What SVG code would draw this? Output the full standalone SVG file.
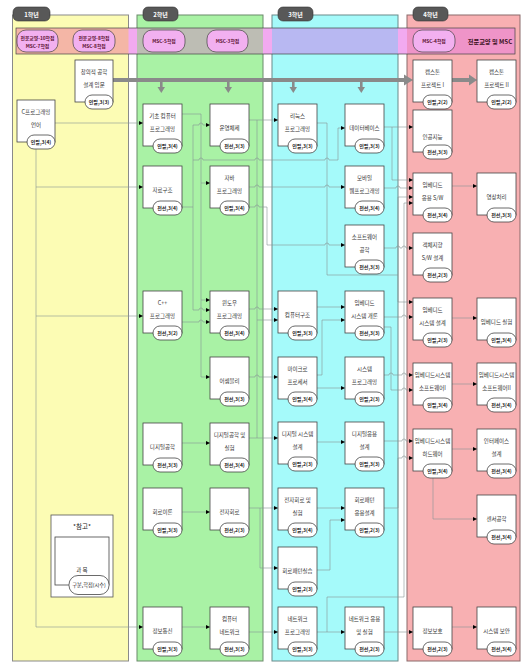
<svg xmlns="http://www.w3.org/2000/svg" width="523" height="662" viewBox="0 0 523 662">
<style>
text{font-family:"Noto Sans CJK KR","Noto Sans",sans-serif}
.t{font-size:5.5px;fill:#333;text-anchor:middle}
.pt{font-size:5px;fill:#222;text-anchor:middle;font-weight:bold}
.b{fill:#fff;stroke:#444;stroke-width:0.8}
.p{fill:#fff;stroke:#444;stroke-width:0.8}
.tab{fill:#585858;stroke:#333;stroke-width:0.6}
.tabt{font-size:6px;fill:#fff;text-anchor:middle;font-weight:bold}
.bp{fill:#f2b0f0;stroke:#444;stroke-width:0.7}
.bt{font-size:4.8px;fill:#5a1030;text-anchor:middle;font-weight:bold}
.cn{fill:none;stroke:#879393;stroke-width:0.6;marker-end:url(#ah)}
.cl{fill:none;stroke:#879393;stroke-width:0.6}
.thick{fill:none;stroke:#8a8a8a;stroke-width:4}
.ah2{fill:#8a8a8a}
</style>
<defs>
<marker id="ah" markerUnits="userSpaceOnUse" markerWidth="4" markerHeight="4" viewBox="0 0 6 6" refX="6" refY="3" orient="auto"><path d="M0,0 L6,3 L0,6 z" fill="#000"/></marker>
</defs>
<g id="panels">
<rect x="12.5" y="15" width="116" height="646" fill="#fcfcb4" stroke="#8a8a8a"/>
<rect x="137" y="15" width="126" height="646" fill="#a9f2a5" stroke="#6a8a6a"/>
<rect x="272" y="15" width="126" height="646" fill="#a5fafa" stroke="#6a8a8a"/>
<rect x="407" y="15" width="113" height="646" fill="#f8b0b2" stroke="#8a6a6a"/>
<rect x="16" y="28" width="499" height="26" fill="#f2aaf0"/>
<rect x="16" y="28" width="112.5" height="26" fill="#f4b6a6"/>
<rect x="137" y="28" width="126" height="26" fill="#bdbdb4"/>
<rect x="272" y="28" width="126" height="26" fill="#b8b8f2"/>
<rect x="407" y="28" width="108" height="26" fill="#ef94c8"/>
<rect x="16" y="28" width="499" height="26" fill="none" stroke="#444" stroke-width="0.7"/>
</g>
<g id="tabs">
<rect class="tab" x="13" y="7" width="37" height="14" rx="5"/><text class="tabt" x="31.5" y="16.5">1학년</text>
<rect class="tab" x="143" y="7" width="35" height="14" rx="5"/><text class="tabt" x="160.5" y="16.5">2학년</text>
<rect class="tab" x="278" y="7" width="35" height="14" rx="5"/><text class="tabt" x="295.5" y="16.5">3학년</text>
<rect class="tab" x="413" y="7" width="35" height="14" rx="5"/><text class="tabt" x="430.5" y="16.5">4학년</text>
</g>
<g id="band">
<rect class="bp" x="17" y="30" width="41" height="22" rx="9"/><text class="bt" x="37.5" y="39.5">전문교양-10학점</text><text class="bt" x="37.5" y="47.5">MSC-7학점</text>
<rect class="bp" x="73" y="30" width="42" height="22" rx="9"/><text class="bt" x="94" y="39.5">전문교양-8학점</text><text class="bt" x="94" y="47.5">MSC-8학점</text>
<rect class="bp" x="143" y="30" width="42" height="22" rx="9"/><text class="bt" x="164" y="43">MSC-5학점</text>
<rect class="bp" x="207" y="30" width="41" height="22" rx="9"/><text class="bt" x="227.5" y="43">MSC-3학점</text>
<rect class="bp" x="413" y="30" width="42" height="22" rx="9"/><text class="bt" x="434" y="43">MSC-4학점</text>
<text x="490" y="43.5" font-size="6.2" font-weight="bold" fill="#3a1020" text-anchor="middle">전문교양 및 MSC</text>
</g>
<g id="flow">
<path class="thick" d="M113,80 H405"/>
<polygon class="ah2" points="404,74.5 413,80 404,85.5"/>
<path class="thick" d="M452,80 H470"/>
<polygon class="ah2" points="469,74.5 477,80 469,85.5"/>
<path d="M161.3,80 V88 M228.3,80 V88 M293.3,80 V88 M361.3,80 V88" stroke="#8a8a8a" stroke-width="2.6"/>
<polygon class="ah2" points="157.5,87 165,87 161.3,93"/>
<polygon class="ah2" points="224.5,87 232,87 228.3,93"/>
<polygon class="ah2" points="289.5,87 297,87 293.3,93"/>
<polygon class="ah2" points="357.5,87 365,87 361.3,93"/>
</g>
<g id="connectors">
<path class="cn" d="M55,123 H143"/>
<path class="cl" d="M36,149 V627"/>
<path class="cn" d="M36,187 H143"/>
<path class="cn" d="M36,316 H143"/>
<path class="cn" d="M36,627 H143"/>
<path class="cl" d="M182,114 H201 V377"/>
<path class="cn" d="M201,183 H210"/>
<path class="cn" d="M201,300 H210"/>
<path class="cn" d="M201,377 H210"/>
<path class="cl" d="M182,207 H193 V125"/>
<path class="cn" d="M193,125 H199 a2,2 0 0 1 4,0 H210"/>
<path class="cl" d="M193,207 V310"/>
<path class="cn" d="M193,310 H199 a2,2 0 0 1 4,0 H210"/>
<path class="cn" d="M193,160 H199 a2,2 0 0 1 4,0 H255 a2,2 0 0 1 4,0 H325 a2,2 0 0 1 4,0 H338 V128 H345"/>
<path class="cn" d="M182,322 H199 a2,2 0 0 1 4,0 H210"/>
<path class="cn" d="M182,443 H210"/>
<path class="cn" d="M182,512 H210"/>
<path class="cn" d="M182,627 H210"/>
<path class="cn" d="M249,120 H278"/>
<path class="cl" d="M257,120 V438"/>
<path class="cn" d="M249,187 H255 a2,2 0 0 1 4,0 H325 a2,2 0 0 1 4,0 H345"/>
<path class="cn" d="M249,207 H255 a2,2 0 0 1 4,0 H267 V245 H325 a2,2 0 0 1 4,0 H345"/>
<path class="cn" d="M249,309 H255 a2,2 0 0 1 4,0 H278"/>
<path class="cn" d="M257,320 H278"/>
<path class="cn" d="M249,438 H278"/>
<path class="cn" d="M249,377 H255 a2,2 0 0 1 4,0 H278"/>
<path class="cn" d="M249,508 H278"/>
<path class="cn" d="M260,508 V568 H278"/>
<path class="cn" d="M249,632 H278"/>
<path class="cl" d="M317,123 H327 V275 H398"/>
<path class="cl" d="M398,197 V302"/>
<path class="cn" d="M398,197 H413"/>
<path class="cn" d="M398,302 H413"/>
<path class="cn" d="M317,307 H345"/>
<path class="cn" d="M317,375 H322 V320 H345"/>
<path class="cn" d="M317,388 H345"/>
<path class="cn" d="M317,442 H345"/>
<path class="cn" d="M317,508 H345"/>
<path class="cn" d="M317,570 H330 V520 H345"/>
<path class="cn" d="M317,632 H345"/>
<path class="cl" d="M327,632 V597 H404 V203"/>
<path class="cn" d="M404,203 H413"/>
<path class="cn" d="M384,127 H413"/>
<path class="cn" d="M392,127 V180 H413"/>
<path class="cn" d="M384,188 H396 a2,2 0 0 1 4,0 H413"/>
<path class="cn" d="M384,248 H396 a2,2 0 0 1 4,0 H402 a2,2 0 0 1 4,0 H413"/>
<path class="cn" d="M384,317 H402 a2,2 0 0 1 4,0 H413"/>
<path class="cn" d="M384,327 H391 V390 H402 a2,2 0 0 1 4,0 H413"/>
<path class="cn" d="M384,375 H389 a2,2 0 0 1 4,0 H402 a2,2 0 0 1 4,0 H413"/>
<path class="cn" d="M384,441 H402 a2,2 0 0 1 4,0 H413"/>
<path class="cn" d="M384,508 H398 V458 H402 a2,2 0 0 1 4,0 H413"/>
<path class="cn" d="M384,632 H413"/>
<path class="cn" d="M452,186 H477"/>
<path class="cn" d="M452,318 H477"/>
<path class="cn" d="M452,384 H477"/>
<path class="cn" d="M452,449 H477"/>
<path class="cn" d="M433,478 V519 H477"/>
<path class="cn" d="M452,627 H477"/>
</g>
<g id="n-cgd"><rect class="b" x="75" y="60" width="38" height="42"/><rect class="p" x="85" y="95" width="28" height="14" rx="7"/><text class="t" x="94" y="74">창의적 공학</text><text class="t" x="94" y="87">설계 입문</text><text class="pt" x="99" y="103.8">인필,3(3)</text></g>
<g id="n-c"><rect class="b" x="17" y="100" width="38" height="42"/><rect class="p" x="27" y="135" width="28" height="14" rx="7"/><text class="t" x="36" y="114">C프로그래밍</text><text class="t" x="36" y="127">언어</text><text class="pt" x="41" y="143.8">인필,3(4)</text></g>
<g id="n-kicho"><rect class="b" x="143" y="104" width="39" height="42"/><rect class="p" x="153" y="139" width="29" height="14" rx="7"/><text class="t" x="162.5" y="118">기초 컴퓨터</text><text class="t" x="162.5" y="131">프로그래밍</text><text class="pt" x="167.5" y="147.8">인필,3(4)</text></g>
<g id="n-ds"><rect class="b" x="143" y="166" width="39" height="42"/><rect class="p" x="153" y="201" width="29" height="14" rx="7"/><text class="t" x="162.5" y="192">자료구조</text><text class="pt" x="167.5" y="209.8">전선,3(4)</text></g>
<g id="n-cpp"><rect class="b" x="143" y="291" width="39" height="42"/><rect class="p" x="153" y="326" width="29" height="14" rx="7"/><text class="t" x="162.5" y="305">C++</text><text class="t" x="162.5" y="318">프로그래밍</text><text class="pt" x="167.5" y="334.8">전선,3(2)</text></g>
<g id="n-dl"><rect class="b" x="143" y="423" width="39" height="42"/><rect class="p" x="153" y="458" width="29" height="14" rx="7"/><text class="t" x="162.5" y="449">디지털공학</text><text class="pt" x="167.5" y="466.8">전선,3(3)</text></g>
<g id="n-ct"><rect class="b" x="143" y="488" width="39" height="42"/><rect class="p" x="153" y="523" width="29" height="14" rx="7"/><text class="t" x="162.5" y="514">회로이론</text><text class="pt" x="167.5" y="531.8">인필,3(3)</text></g>
<g id="n-ic"><rect class="b" x="143" y="607" width="39" height="42"/><rect class="p" x="153" y="642" width="29" height="14" rx="7"/><text class="t" x="162.5" y="633">정보통신</text><text class="pt" x="167.5" y="650.8">인필,3(3)</text></g>
<g id="n-os"><rect class="b" x="210" y="104" width="39" height="42"/><rect class="p" x="220" y="139" width="29" height="14" rx="7"/><text class="t" x="229.5" y="130">운영체제</text><text class="pt" x="234.5" y="147.8">전선,3(3)</text></g>
<g id="n-java"><rect class="b" x="210" y="166" width="39" height="42"/><rect class="p" x="220" y="201" width="29" height="14" rx="7"/><text class="t" x="229.5" y="180">자바</text><text class="t" x="229.5" y="193">프로그래밍</text><text class="pt" x="234.5" y="209.8">인필,3(4)</text></g>
<g id="n-win"><rect class="b" x="210" y="291" width="39" height="42"/><rect class="p" x="220" y="326" width="29" height="14" rx="7"/><text class="t" x="229.5" y="305">윈도우</text><text class="t" x="229.5" y="318">프로그래밍</text><text class="pt" x="234.5" y="334.8">전선,3(4)</text></g>
<g id="n-asm"><rect class="b" x="210" y="357" width="39" height="42"/><rect class="p" x="220" y="392" width="29" height="14" rx="7"/><text class="t" x="229.5" y="383">어셈블리</text><text class="pt" x="234.5" y="400.8">전선,3(3)</text></g>
<g id="n-dll"><rect class="b" x="210" y="423" width="39" height="42"/><rect class="p" x="220" y="458" width="29" height="14" rx="7"/><text class="t" x="229.5" y="437">디지털공학 및</text><text class="t" x="229.5" y="450">실험</text><text class="pt" x="234.5" y="466.8">전선,3(4)</text></g>
<g id="n-ec"><rect class="b" x="210" y="488" width="39" height="42"/><rect class="p" x="220" y="523" width="29" height="14" rx="7"/><text class="t" x="229.5" y="514">전자회로</text><text class="pt" x="234.5" y="531.8">전선,2(3)</text></g>
<g id="n-cn"><rect class="b" x="210" y="607" width="39" height="42"/><rect class="p" x="220" y="642" width="29" height="14" rx="7"/><text class="t" x="229.5" y="621">컴퓨터</text><text class="t" x="229.5" y="634">네트워크</text><text class="pt" x="234.5" y="650.8">전선,3(3)</text></g>
<g id="n-linux"><rect class="b" x="278" y="104" width="39" height="42"/><rect class="p" x="288" y="139" width="29" height="14" rx="7"/><text class="t" x="297.5" y="118">리눅스</text><text class="t" x="297.5" y="131">프로그래밍</text><text class="pt" x="302.5" y="147.8">인필,3(3)</text></g>
<g id="n-ca"><rect class="b" x="278" y="291" width="39" height="42"/><rect class="p" x="288" y="326" width="29" height="14" rx="7"/><text class="t" x="297.5" y="317">컴퓨터구조</text><text class="pt" x="302.5" y="334.8">인필,3(3)</text></g>
<g id="n-mp"><rect class="b" x="278" y="357" width="39" height="42"/><rect class="p" x="288" y="392" width="29" height="14" rx="7"/><text class="t" x="297.5" y="371">마이크로</text><text class="t" x="297.5" y="384">프로세서</text><text class="pt" x="302.5" y="400.8">인필,3(4)</text></g>
<g id="n-dsd"><rect class="b" x="278" y="422" width="39" height="42"/><rect class="p" x="288" y="457" width="29" height="14" rx="7"/><text class="t" x="297.5" y="436">디지털 시스템</text><text class="t" x="297.5" y="449">설계</text><text class="pt" x="302.5" y="465.8">인필,2(3)</text></g>
<g id="n-ecl"><rect class="b" x="278" y="488" width="39" height="42"/><rect class="p" x="288" y="523" width="29" height="14" rx="7"/><text class="t" x="297.5" y="502">전자회로 및</text><text class="t" x="297.5" y="515">실험</text><text class="pt" x="302.5" y="531.8">인필,3(4)</text></g>
<g id="n-pcb"><rect class="b" x="278" y="547" width="39" height="42"/><rect class="p" x="288" y="582" width="29" height="14" rx="7"/><text class="t" x="297.5" y="573">회로패턴실습</text><text class="pt" x="302.5" y="590.8">인필,2(3)</text></g>
<g id="n-np"><rect class="b" x="278" y="607" width="39" height="42"/><rect class="p" x="288" y="642" width="29" height="14" rx="7"/><text class="t" x="297.5" y="621">네트워크</text><text class="t" x="297.5" y="634">프로그래밍</text><text class="pt" x="302.5" y="650.8">인필,3(3)</text></g>
<g id="n-db"><rect class="b" x="345" y="104" width="39" height="42"/><rect class="p" x="355" y="139" width="29" height="14" rx="7"/><text class="t" x="364.5" y="130">데이터베이스</text><text class="pt" x="369.5" y="147.8">인필,3(3)</text></g>
<g id="n-mw"><rect class="b" x="345" y="166" width="39" height="42"/><rect class="p" x="355" y="201" width="29" height="14" rx="7"/><text class="t" x="364.5" y="180">모바일</text><text class="t" x="364.5" y="193">웹프로그래밍</text><text class="pt" x="369.5" y="209.8">전선,3(4)</text></g>
<g id="n-se"><rect class="b" x="345" y="225" width="39" height="42"/><rect class="p" x="355" y="260" width="29" height="14" rx="7"/><text class="t" x="364.5" y="239">소프트웨어</text><text class="t" x="364.5" y="252">공학</text><text class="pt" x="369.5" y="268.8">전선,3(3)</text></g>
<g id="n-esi"><rect class="b" x="345" y="291" width="39" height="42"/><rect class="p" x="355" y="326" width="29" height="14" rx="7"/><text class="t" x="364.5" y="305">임베디드</text><text class="t" x="364.5" y="318">시스템 개론</text><text class="pt" x="369.5" y="334.8">전선,3(3)</text></g>
<g id="n-sp"><rect class="b" x="345" y="357" width="39" height="42"/><rect class="p" x="355" y="392" width="29" height="14" rx="7"/><text class="t" x="364.5" y="371">시스템</text><text class="t" x="364.5" y="384">프로그래밍</text><text class="pt" x="369.5" y="400.8">인필,2(3)</text></g>
<g id="n-dad"><rect class="b" x="345" y="422" width="39" height="42"/><rect class="p" x="355" y="457" width="29" height="14" rx="7"/><text class="t" x="364.5" y="436">디지털응용</text><text class="t" x="364.5" y="449">설계</text><text class="pt" x="369.5" y="465.8">인필,3(3)</text></g>
<g id="n-pcbd"><rect class="b" x="345" y="488" width="39" height="42"/><rect class="p" x="355" y="523" width="29" height="14" rx="7"/><text class="t" x="364.5" y="502">회로패턴</text><text class="t" x="364.5" y="515">응용설계</text><text class="pt" x="369.5" y="531.8">인필,2(3)</text></g>
<g id="n-nal"><rect class="b" x="345" y="607" width="39" height="42"/><rect class="p" x="355" y="642" width="29" height="14" rx="7"/><text class="t" x="364.5" y="621">네트워크 응용</text><text class="t" x="364.5" y="634">및 실험</text><text class="pt" x="369.5" y="650.8">전선,2(3)</text></g>
<g id="n-cap1"><rect class="b" x="413" y="60" width="39" height="42"/><rect class="p" x="423" y="95" width="29" height="14" rx="7"/><text class="t" x="432.5" y="74">캡스톤</text><text class="t" x="432.5" y="87">프로젝트 I</text><text class="pt" x="437.5" y="103.8">인필,2(2)</text></g>
<g id="n-ai"><rect class="b" x="413" y="110" width="39" height="42"/><rect class="p" x="423" y="145" width="29" height="14" rx="7"/><text class="t" x="432.5" y="139">인공지능</text><text class="pt" x="437.5" y="153.8">전선,3(3)</text></g>
<g id="n-eas"><rect class="b" x="413" y="173" width="39" height="42"/><rect class="p" x="423" y="208" width="29" height="14" rx="7"/><text class="t" x="432.5" y="187">임베디드</text><text class="t" x="432.5" y="200">응용 S/W</text><text class="pt" x="437.5" y="216.8">전선,3(4)</text></g>
<g id="n-oo"><rect class="b" x="413" y="233" width="39" height="42"/><rect class="p" x="423" y="268" width="29" height="14" rx="7"/><text class="t" x="432.5" y="247">객체지향</text><text class="t" x="432.5" y="260">S/W 설계</text><text class="pt" x="437.5" y="276.8">전선,2(3)</text></g>
<g id="n-esd"><rect class="b" x="413" y="298" width="39" height="42"/><rect class="p" x="423" y="333" width="29" height="14" rx="7"/><text class="t" x="432.5" y="312">임베디드</text><text class="t" x="432.5" y="325">시스템 설계</text><text class="pt" x="437.5" y="341.8">인필,2(3)</text></g>
<g id="n-ess1"><rect class="b" x="413" y="363" width="39" height="42"/><rect class="p" x="423" y="398" width="29" height="14" rx="7"/><text class="t" x="432.5" y="377">임베디드시스템</text><text class="t" x="432.5" y="390">소프트웨어I</text><text class="pt" x="437.5" y="406.8">인필,3(4)</text></g>
<g id="n-esh"><rect class="b" x="413" y="429" width="39" height="42"/><rect class="p" x="423" y="464" width="29" height="14" rx="7"/><text class="t" x="432.5" y="443">임베디드시스템</text><text class="t" x="432.5" y="456">하드웨어</text><text class="pt" x="437.5" y="472.8">인필,3(4)</text></g>
<g id="n-isec"><rect class="b" x="413" y="607" width="39" height="42"/><rect class="p" x="423" y="642" width="29" height="14" rx="7"/><text class="t" x="432.5" y="633">정보보호</text><text class="pt" x="437.5" y="650.8">전선,2(3)</text></g>
<g id="n-cap2"><rect class="b" x="477" y="60" width="39" height="42"/><rect class="p" x="487" y="95" width="29" height="14" rx="7"/><text class="t" x="496.5" y="74">캡스톤</text><text class="t" x="496.5" y="87">프로젝트 II</text><text class="pt" x="501.5" y="103.8">인필,2(2)</text></g>
<g id="n-ip"><rect class="b" x="477" y="173" width="39" height="42"/><rect class="p" x="487" y="208" width="29" height="14" rx="7"/><text class="t" x="496.5" y="199">영상처리</text><text class="pt" x="501.5" y="216.8">전선,3(3)</text></g>
<g id="n-el"><rect class="b" x="477" y="298" width="39" height="42"/><rect class="p" x="487" y="333" width="29" height="14" rx="7"/><text class="t" x="496.5" y="324">임베디드 실험</text><text class="pt" x="501.5" y="341.8">인필,3(4)</text></g>
<g id="n-ess2"><rect class="b" x="477" y="363" width="39" height="42"/><rect class="p" x="487" y="398" width="29" height="14" rx="7"/><text class="t" x="496.5" y="377">임베디드시스템</text><text class="t" x="496.5" y="390">소프트웨어II</text><text class="pt" x="501.5" y="406.8">전선,3(4)</text></g>
<g id="n-if"><rect class="b" x="477" y="429" width="39" height="42"/><rect class="p" x="487" y="464" width="29" height="14" rx="7"/><text class="t" x="496.5" y="443">인터페이스</text><text class="t" x="496.5" y="456">설계</text><text class="pt" x="501.5" y="472.8">전선,3(4)</text></g>
<g id="n-sen"><rect class="b" x="477" y="495" width="39" height="42"/><rect class="p" x="487" y="530" width="29" height="14" rx="7"/><text class="t" x="496.5" y="521">센서공학</text><text class="pt" x="501.5" y="538.8">전선,3(4)</text></g>
<g id="n-ss"><rect class="b" x="477" y="607" width="39" height="42"/><rect class="p" x="487" y="642" width="29" height="14" rx="7"/><text class="t" x="496.5" y="633">시스템 보안</text><text class="pt" x="501.5" y="650.8">전선,3(4)</text></g>
<g id="legend">
<rect x="51" y="515" width="62" height="82" fill="#fff" stroke="#555" stroke-width="0.8"/>
<text x="82" y="529" font-size="6.5" fill="#222" text-anchor="middle">*참고*</text>
<rect class="b" x="55" y="537" width="54" height="48"/>
<rect class="p" x="69" y="575.5" width="40" height="19" rx="9"/>
<text class="t" x="82" y="572">과 목</text>
<text x="89" y="587" font-size="5.2" fill="#222" text-anchor="middle">구분,학점(시수)</text>
</g>
</svg>
